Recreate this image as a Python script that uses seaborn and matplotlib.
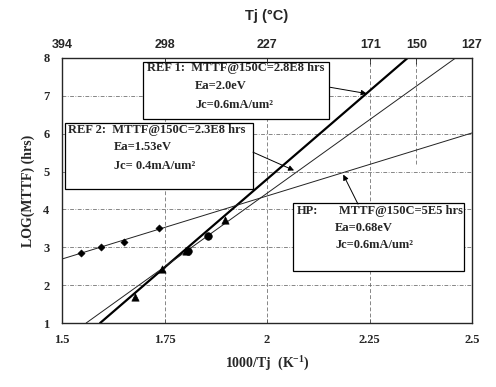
import numpy as np
import pandas as pd
import matplotlib
matplotlib.use("Agg")
import matplotlib.pyplot as plt
from matplotlib.patches import Rectangle
import seaborn as sns

# ---- data ----
# fitted lines (end points within the plotting window)
ref1_line_x = [1.593, 2.343]
ref1_line_y = [1.0, 8.0]
ref2_line_x = [1.559, 2.460]
ref2_line_y = [1.0, 8.0]
hp_line_x = [1.5, 2.5]
hp_line_y = [2.69, 6.02]

# measured points
ref1_pts_x = [1.677, 1.745, 1.802, 1.898]
ref1_pts_y = [1.69, 2.42, 2.91, 3.72]
ref2_pts_x = [1.807, 1.857]
ref2_pts_y = [2.90, 3.30]
hp_pts_x = [1.546, 1.595, 1.650, 1.736]
hp_pts_y = [2.86, 3.01, 3.13, 3.50]

# top axis temperatures (°C)
tj_labels = [394, 298, 227, 171, 150, 127]
x_ticks = [1.5, 1.75, 2, 2.25, 2.5]
x_tick_labels = ["1.5", "1.75", "2", "2.25", "2.5"]
y_ticks = [1, 2, 3, 4, 5, 6, 7, 8]

ref1_text = ["REF 1:  MTTF@150C=2.8E8 hrs", "Ea=2.0eV", "Jc=0.6mA/um²"]
ref2_text = ["REF 2:  MTTF@150C=2.3E8 hrs", "Ea=1.53eV", "Jc= 0.4mA/um²"]
hp_text = ["HP:", "MTTF@150C=5E5 hrs", "Ea=0.68eV", "Jc=0.6mA/um²"]

# ---- figure ----
sns.set_style("white")
SERIF = "Liberation Serif"
SANS = "Liberation Sans"
plt.rcParams["font.family"] = [SERIF, "DejaVu Sans"]

fig = plt.figure(figsize=(4.96, 3.87), dpi=100)
ax = fig.add_axes([62/496, 1-323/387, 410/496, 265/387])
ax.set_xlim(1.5, 2.5)
ax.set_ylim(1, 8)

# grid
gcol = "#666666"
for yv in y_ticks[1:-1]:
    ax.axhline(yv, color=gcol, lw=0.55, ls=(0, (5, 2, 1, 2)), zorder=1)
for xv in x_ticks[1:-1]:
    ax.axvline(xv, color=gcol, lw=0.55, ls=(0, (5, 3)), zorder=1)
x150 = 1000.0 / (150 + 273)
ax.plot([x150, x150], [5.2, 8], color=gcol, lw=0.55, ls=(0, (5, 3)), zorder=1)

# lines
lines = pd.concat([
    pd.DataFrame({"x": ref1_line_x, "y": ref1_line_y, "s": "REF1"}),
    pd.DataFrame({"x": ref2_line_x, "y": ref2_line_y, "s": "REF2"}),
    pd.DataFrame({"x": hp_line_x, "y": hp_line_y, "s": "HP"}),
])
sns.lineplot(data=lines, x="x", y="y", hue="s", size="s",
             palette={"REF1": "black", "REF2": "#222222", "HP": "#222222"},
             sizes={"REF1": 1.6, "REF2": 0.7, "HP": 0.7},
             legend=False, ax=ax, zorder=3, sort=False)

sns.scatterplot(x=ref1_pts_x, y=ref1_pts_y, marker="^", s=28, color="black",
                edgecolor="black", ax=ax, zorder=4)
sns.scatterplot(x=ref2_pts_x, y=ref2_pts_y, marker="o", s=30, color="black",
                edgecolor="black", ax=ax, zorder=4)
sns.scatterplot(x=hp_pts_x, y=hp_pts_y, marker="D", s=14, color="black",
                edgecolor="black", ax=ax, zorder=4)

def px(x):
    return 1.5 + (x - 62) / 410.0

def py(y):
    return 1 + (323 - y) / 37.9

# boxes
def box(x0, y0, x1, y1):
    r = Rectangle((px(x0), py(y1)), px(x1) - px(x0), py(y0) - py(y1),
                  facecolor="white", edgecolor="black", lw=0.9, zorder=5)
    ax.add_patch(r)

box(143, 62, 329, 119)
box(65, 123, 253, 189)
box(293, 203, 464, 271)

tkw = dict(fontsize=9.0, fontweight="bold", family=SERIF, va="center",
           ha="left", zorder=6)
ax.text(px(147), py(68), ref1_text[0], **tkw)
ax.text(px(195), py(86), ref1_text[1], **tkw)
ax.text(px(195), py(105), ref1_text[2], **tkw)
ax.text(px(68), py(130), ref2_text[0], **tkw)
ax.text(px(114), py(147), ref2_text[1], **tkw)
ax.text(px(114), py(166), ref2_text[2], **tkw)
ax.text(px(297), py(211), hp_text[0], **tkw)
ax.text(px(339), py(211), hp_text[1], **tkw)
ax.text(px(335), py(228), hp_text[2], **tkw)
ax.text(px(335), py(245), hp_text[3], **tkw)

# arrows
akw = dict(arrowstyle="-|>", color="black", lw=0.7, mutation_scale=8,
           shrinkA=0, shrinkB=0)
ax.annotate("", xy=(2.243, 7.06), xytext=(px(330), py(87)), arrowprops=akw, zorder=6)
ax.annotate("", xy=(2.066, 5.03), xytext=(px(253), py(152)), arrowprops=akw, zorder=6)
ax.annotate("", xy=(2.186, 4.92), xytext=(px(358), py(204)), arrowprops=akw, zorder=6)

# axes styling
ax.set_xticks(x_ticks)
ax.set_xticklabels(x_tick_labels)
ax.set_yticks(y_ticks)
for lab in ax.get_xticklabels() + ax.get_yticklabels():
    lab.set_fontfamily(SERIF)
    lab.set_fontweight("bold")
    lab.set_fontsize(9)
ax.tick_params(axis="x", direction="in", length=3, pad=8, width=0.6)
ax.tick_params(axis="y", direction="in", length=3, pad=9, width=0.6)
for sp in ax.spines.values():
    sp.set_color("black")
    sp.set_linewidth(0.9)
ax.set_xlabel("1000/Tj  (K$\\mathregular{^{-1}}$)", fontsize=10, fontweight="bold",
              family=SERIF, labelpad=6)
ax.set_ylabel("LOG(MTTF) (hrs)", fontsize=10, fontweight="bold",
              family=SERIF, labelpad=6)

# top temperature axis
ax2 = ax.twiny()
ax2.set_xlim(ax.get_xlim())
ax2.set_xticks([1000.0 / (t + 273) for t in tj_labels])
ax2.set_xticklabels([str(t) for t in tj_labels], fontsize=9,
                    fontweight="bold", family=SANS)
ax2.tick_params(axis="x", direction="in", length=4, pad=5, width=0.6)
ax2.set_xlabel("Tj (°C)", fontsize=10.5, fontweight="bold", family=SANS,
               labelpad=14)

fig.savefig("out.png", dpi=100)
